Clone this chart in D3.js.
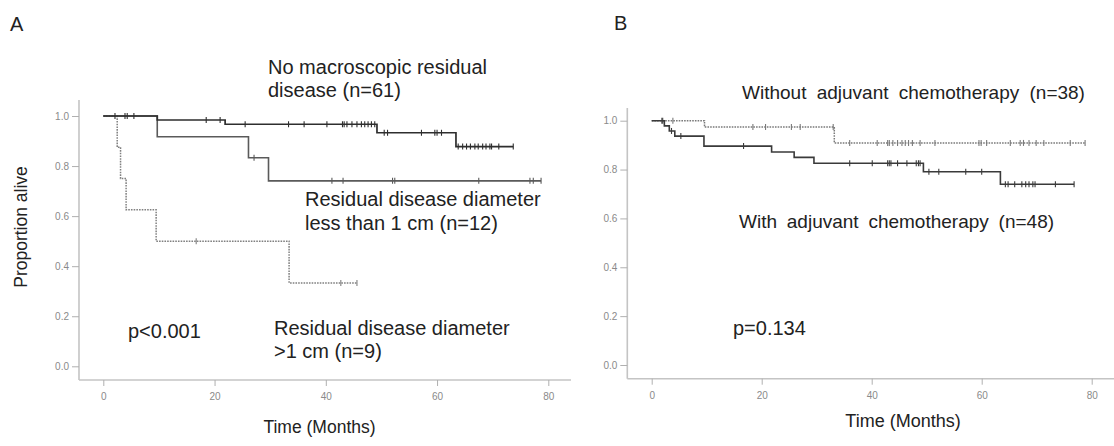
<!DOCTYPE html>
<html><head><meta charset="utf-8">
<script src="https://cdn.jsdelivr.net/npm/d3@7"></script>
<style>
body{margin:0;background:#fff}
svg{display:block}
text{font-family:"Liberation Sans",Arial,Helvetica,sans-serif}
</style>
</head><body>
<svg id="c" width="1114" height="446"></svg>
<script>
// ---------- data ----------
const yTicks = [0, 0.2, 0.4, 0.6, 0.8, 1.0];
const xTicks = [0, 20, 40, 60, 80];

// Panel A : residual disease groups  [time (months), proportion alive]
const aNoResSteps = [[0,1],[9.7,0.984],[21.9,0.967],[49.2,0.933],[63.4,0.878]];
const aNoResEnd = 73.7;
const aNoResCensor = [2.1,3.9,4.3,5.5,18.5,21.0,25.5,33.3,36.1,40.2,43.0,43.3,43.8,44.7,45.6,46.4,47.0,47.6,48.2,48.8,
  50.5,51.1,57.2,59.6,60.0,60.8,63.8,64.6,65.3,66.0,66.8,67.4,68.2,68.8,69.5,69.8,71.1,73.7];

const aLt1Steps = [[0,1],[9.7,0.917],[26.1,0.833],[29.7,0.741]];
const aLt1End = 78.7;
const aLt1Censor = [27.1,41.1,43.1,52.0,52.4,67.5,76.7,77.3,78.7];

const aGt1Steps = [[0,1],[2.5,0.875],[3.1,0.75],[4.1,0.625],[9.5,0.5],[33.4,0.333]];
const aGt1End = 45.6;
const aGt1Censor = [16.7,42.7,45.6];

// Panel B : adjuvant chemotherapy groups
const bWithoutSteps = [[0,1],[9.6,0.974],[33.2,0.909]];
const bWithoutEnd = 78.8;
const bWithoutCensor = [1.8,3.85,18.4,20.7,25.4,27.0,33.0,36.0,41.0,42.9,43.2,43.85,44.7,45.5,46.1,46.7,47.4,48.8,51.5,
  59.5,59.9,60.9,65.2,67.0,67.6,68.6,69.9,71.3,76.1,78.8];

const bWithSteps = [[0,1],[2.3,0.979],[3.2,0.958],[4.2,0.937],[9.5,0.896],[21.8,0.872],[25.9,0.850],[29.5,0.826],[49.4,0.791],[63.4,0.740]];
const bWithEnd = 76.8;
const bWithCensor = [2.0,3.6,5.3,16.7,36.0,40.1,42.9,43.2,43.5,44.7,46.4,48.1,48.5,48.8,50.4,52.2,57.1,60.0,
  64.3,64.8,66.0,67.3,68.0,68.6,69.3,69.7,73.4,76.8];

// ---------- drawing ----------
const svg = d3.select("#c");

function surv(steps, t){
  let v = steps[0][1];
  for (const s of steps){ if (s[0] <= t) v = s[1]; }
  return v;
}

function drawPanel(cfg){
  const g = svg.append("g");
  const x = d3.scaleLinear().domain([0,80]).range(cfg.xr);
  const y = d3.scaleLinear().domain([0,1]).range(cfg.yr);

  // axis lines
  g.append("line").attr("x1",cfg.axX).attr("x2",cfg.axX).attr("y1",cfg.axTop).attr("y2",cfg.axY)
    .attr("stroke","#c4c4c4").attr("stroke-width",1.6);
  g.append("line").attr("x1",cfg.axX).attr("x2",cfg.axRight).attr("y1",cfg.axY).attr("y2",cfg.axY)
    .attr("stroke","#c4c4c4").attr("stroke-width",1.6);

  const ya = d3.axisLeft(y).tickValues(yTicks).tickFormat(d3.format(".1f")).tickSize(7).tickPadding(3);
  const yg = g.append("g").attr("transform",`translate(${cfg.axX},0)`).call(ya);
  const xa = d3.axisBottom(x).tickValues(xTicks).tickFormat(d3.format("d")).tickSize(6).tickPadding(7);
  const xg = g.append("g").attr("transform",`translate(0,${cfg.axY})`).call(xa);
  [yg,xg].forEach(a=>{
    a.select(".domain").remove();
    a.selectAll(".tick line").attr("stroke","#b0b0b0").attr("stroke-width",1);
    a.selectAll(".tick text").attr("fill","#8a8a8a").style("font-size","10px")
      .style("font-family","'Liberation Sans',Arial,sans-serif");
  });

  const line = d3.line().x(d=>x(d[0])).y(d=>y(d[1])).curve(d3.curveStepAfter);
  cfg.series.forEach(s=>{
    const pts = s.steps.concat([[s.end, s.steps[s.steps.length-1][1]]]);
    g.append("path").datum(pts).attr("d",line).attr("fill","none")
      .attr("stroke",s.color).attr("stroke-width",s.w)
      .attr("stroke-dasharray",s.dash||null);
    g.append("g").selectAll("line").data(s.censor).join("line")
      .attr("x1",d=>x(d)).attr("x2",d=>x(d))
      .attr("y1",d=>y(surv(s.steps,d))-3).attr("y2",d=>y(surv(s.steps,d))+3)
      .attr("stroke",s.color).attr("stroke-width",1.1);
  });

  cfg.texts.forEach(t=>{
    const el = g.append("text").attr("x",t.x).attr("y",t.y).text(t.s)
      .attr("fill",t.c||"#222").style("font-size",t.fs+"px");
    if (t.anchor) el.attr("text-anchor",t.anchor);
    if (t.ws) el.style("word-spacing",t.ws+"px");
    if (t.rot) el.attr("transform",`rotate(-90,${t.x},${t.y})`);
  });
}

drawPanel({
  xr:[103.3,548.3], yr:[366.3,116],
  axX:79, axY:380, axTop:100, axRight:571,
  series:[
    {steps:aGt1Steps, end:aGt1End, censor:aGt1Censor, color:"#808080", w:1.5, dash:"1.6,1.1"},
    {steps:aLt1Steps, end:aLt1End, censor:aLt1Censor, color:"#5a5a5a", w:1.6},
    {steps:aNoResSteps, end:aNoResEnd, censor:aNoResCensor, color:"#2e2e2e", w:1.7}
  ],
  texts:[
    {s:"A", x:10, y:31, fs:20},
    {s:"No macroscopic residual", x:268, y:74, fs:20},
    {s:"disease (n=61)", x:268, y:97, fs:20},
    {s:"Residual disease diameter", x:305, y:206, fs:20},
    {s:"less than 1 cm (n=12)", x:305, y:230, fs:20},
    {s:"p<0.001", x:128, y:338, fs:20},
    {s:"Residual disease diameter", x:274, y:335, fs:20},
    {s:">1 cm (n=9)", x:274, y:358, fs:20},
    {s:"Proportion alive", x:27, y:227, fs:17.5, anchor:"middle", rot:true},
    {s:"Time (Months)", x:319.5, y:433, fs:17.5, anchor:"middle"}
  ]
});

drawPanel({
  xr:[651.7,1091.7], yr:[365,120.7],
  axX:627.3, axY:378.7, axTop:108, axRight:1114,
  series:[
    {steps:bWithoutSteps, end:bWithoutEnd, censor:bWithoutCensor, color:"#7a7a7a", w:1.5, dash:"1.6,1.1"},
    {steps:bWithSteps, end:bWithEnd, censor:bWithCensor, color:"#3a3a3a", w:1.6}
  ],
  texts:[
    {s:"B", x:614, y:30, fs:20},
    {s:"Without adjuvant chemotherapy (n=38)", x:742, y:99, fs:19, ws:5},
    {s:"With adjuvant chemotherapy (n=48)", x:739, y:228, fs:19, ws:4.5},
    {s:"p=0.134", x:733, y:335, fs:20},
    {s:"Time (Months)", x:903, y:427, fs:18, anchor:"middle"}
  ]
});
</script>
</body></html>
